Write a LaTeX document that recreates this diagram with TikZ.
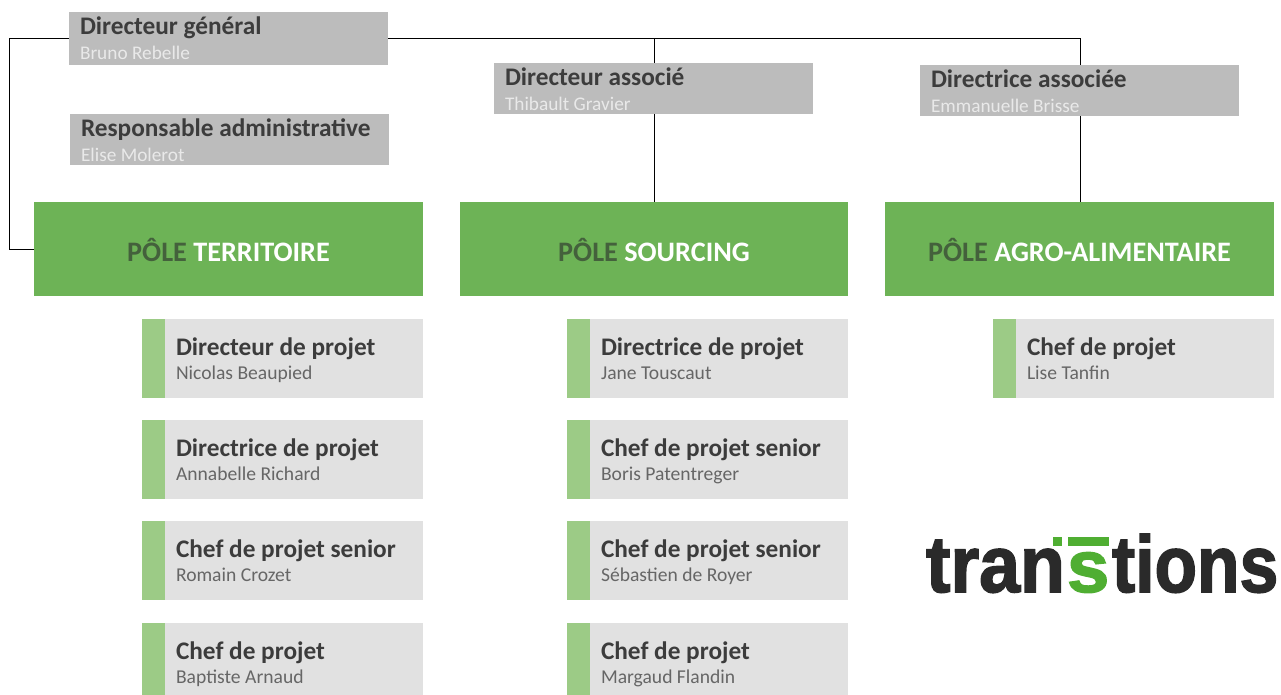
\documentclass[tikz,border=0pt]{standalone}
\usepackage{fontspec}
\setmainfont{Carlito}
\newfontfamily\logofont[BoldFeatures={FakeBold=2}]{Liberation Sans}
\usetikzlibrary{positioning}
\definecolor{polegreen}{HTML}{6DB356}
\definecolor{bargreen}{HTML}{9CCB86}
\definecolor{cardgrey}{HTML}{E1E1E1}
\definecolor{headgrey}{HTML}{BCBCBC}
\definecolor{ink}{HTML}{3C3C3C}
\definecolor{subink}{HTML}{666666}
\definecolor{headname}{HTML}{E9E9E9}
\definecolor{poleink}{HTML}{44613C}
\definecolor{logoink}{HTML}{2A2A2A}
\definecolor{logogreen}{HTML}{4FAE32}
\tikzset{
  x=1pt,y=-1pt,
  boxbase/.style={anchor=north west,inner sep=0pt,outer sep=0pt},
  headbox/.style={boxbase,fill=headgrey,minimum width=319pt,minimum height=52pt},
  polebox/.style={boxbase,fill=polegreen,minimum width=389pt,minimum height=94pt},
  cardbox/.style={boxbase,fill=cardgrey,minimum width=281pt,minimum height=79pt},
  cardbar/.style={boxbase,fill=bargreen,minimum width=23pt,minimum height=79pt},
  txt/.style={inner sep=0pt,outer sep=0pt,anchor=base west},
  headtitle/.style={txt,font=\fontsize{25.3}{27}\selectfont\bfseries,text=ink},
  headnametxt/.style={txt,font=\fontsize{19.3}{21}\selectfont,text=headname},
  cardtitle/.style={txt,font=\fontsize{25.3}{27}\selectfont\bfseries,text=ink},
  cardname/.style={txt,font=\fontsize{19.6}{21}\selectfont,text=subink},
  poletitle/.style={inner sep=0pt,outer sep=0pt,yshift=-0.7pt,font=\fontsize{28.2}{30}\selectfont\bfseries,text=white},
  link/.style={draw=black,line width=1pt},
  logotext/.style={inner sep=0pt,outer sep=0pt,anchor=base west,font=\logofont\fontsize{80}{82}\selectfont\bfseries,text=logoink},
  logobar/.style={fill=logogreen}
}
\newcommand{\headcard}[5]{%
  \node[headbox,minimum height=#5] (#1) at (#2) {};
  \node[headtitle] (#1t) at ([shift={(11pt,-23pt)}]#1.north west) {#3};
  \node[headnametxt] (#1n) at ([shift={(11pt,-48pt)}]#1.north west) {#4};
}
\newcommand{\projcard}[4]{%
  \node[cardbox] (#1) at (#2) {};
  \node[cardbar] (#1b) at (#1.north west) {};
  \node[cardtitle] (#1t) at ([shift={(34pt,-36.5pt)}]#1.north west) {#3};
  \node[cardname] (#1n) at ([shift={(34pt,-60pt)}]#1.north west) {#4};
}
\begin{document}
\begin{tikzpicture}
\useasboundingbox (0,0) rectangle (1281,695);
\headcard{dg}{69,12}{Directeur général}{Bruno Rebelle}{53pt}
\headcard{ra}{70,114}{Responsable administrative}{Elise Molerot}{51pt}
\headcard{da}{494,63}{Directeur associé}{Thibault Gravier}{51pt}
\headcard{db}{920,65}{Directrice associée}{Emmanuelle Brisse}{51pt}

\node[polebox] (pa) at (34,202) {};
\node[poletitle] at (pa.center) {\textcolor{poleink}{PÔLE} TERRITOIRE};
\node[polebox,minimum width=388pt] (pb) at (460,202) {};
\node[poletitle] at (pb.center) {\textcolor{poleink}{PÔLE} SOURCING};
\node[polebox] (pc) at (885,202) {};
\node[poletitle] at (pc.center) {\textcolor{poleink}{PÔLE} AGRO-ALIMENTAIRE};

\projcard{a1}{142,319}{Directeur de projet}{Nicolas Beaupied}
\projcard{a2}{142,420}{Directrice de projet}{Annabelle Richard}
\projcard{a3}{142,521}{Chef de projet senior}{Romain Crozet}
\projcard{a4}{142,623}{Chef de projet}{Baptiste Arnaud}
\projcard{b1}{567,319}{Directrice de projet}{Jane Touscaut}
\projcard{b2}{567,420}{Chef de projet senior}{Boris Patentreger}
\projcard{b3}{567,521}{Chef de projet senior}{Sébastien de Royer}
\projcard{b4}{567,623}{Chef de projet}{Margaud Flandin}
\projcard{c1}{993,319}{Chef de projet}{Lise Tanfin}

\coordinate (tl) at (9,39);
\coordinate (bl) at (9,249);
\coordinate (ja) at (654,39);
\coordinate (jb) at (1080,39);
\draw[link] (dg.west |- tl) -- (tl) -- (bl) -- (pa.west |- bl);
\draw[link] (dg.east |- tl) -- (jb) -- (jb |- db.north);
\draw[link] (ja) -- (ja |- da.north);
\draw[link] (ja |- da.south) -- (ja |- pb.north);
\draw[link] (jb |- db.south) -- (jb |- pc.north);

\node[logotext] (lg1) at (926,592) {\scalebox{.92}[1]{tran}};
\node[logotext,text=logogreen] (lg2) at (1067,592) {\scalebox{.95}[.92]{s}};
\node[logotext] (lg3) at (1112,592) {\scalebox{.87}[1]{tions}};
\fill[logobar] (1053,537) rectangle (1062,546);
\fill[logobar] (1068,537) rectangle (1109,546);
\end{tikzpicture}
\end{document}
